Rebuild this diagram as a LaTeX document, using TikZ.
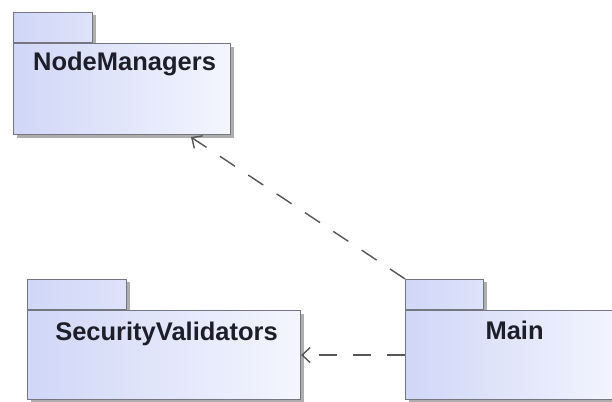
\documentclass[tikz,border=0pt]{standalone}
\usepackage{fontspec}
\setmainfont{Liberation Sans}
\usetikzlibrary{arrows.meta,shadows,calc}

\definecolor{pkgdark}{RGB}{208,215,247}
\definecolor{pkglight}{RGB}{244,245,254}
\definecolor{pkgline}{RGB}{118,118,128}
\definecolor{pkgtext}{RGB}{30,30,42}
\definecolor{depline}{RGB}{85,85,90}

\tikzset{
  pkgshadow/.style={drop shadow={shadow xshift=3pt, shadow yshift=-3pt,
      fill=black!45, opacity=0.7}},
  pkgbody/.style={draw=pkgline, line width=1.1pt, pkgshadow,
      left color=pkgdark, right color=pkglight, inner sep=0pt},
  pkgtab/.style={draw=pkgline, line width=1.1pt, pkgshadow,
      left color=pkgdark, right color=pkgdark!60!pkglight, inner sep=0pt,
      minimum width=79pt, minimum height=30pt, anchor=south west},
  pkgtitle/.style={anchor=base, text=pkgtext, inner sep=0pt,
      font=\fontsize{25.5}{30}\selectfont\bfseries},
  dependency/.style={draw=depline, line width=1.4pt,
      dash pattern=on 18pt off 16pt,
      -{Straight Barb[length=8pt,width=15pt,line width=1.4pt]}}
}

\begin{document}
\begin{tikzpicture}[x=1pt,y=-1pt]
  \useasboundingbox (0,0) rectangle (612,401);
  \clip (0,0) rectangle (612,401);
  \fill[white] (0,0) rectangle (612,401);

  % NodeManagers package
  \node[pkgtab] (nmtab) at (13,43) {};
  \node[pkgbody, minimum width=217pt, minimum height=91pt, anchor=north west] (nm) at (13,43) {};
  \node[pkgtitle] (nmtitle) at ($(nm.north)+(2.5,28)$) {NodeManagers};

  % SecurityValidators package
  \node[pkgtab, minimum width=99pt] (svtab) at (27,310) {};
  \node[pkgbody, minimum width=273pt, minimum height=89pt, anchor=north west] (sv) at (27,310) {};
  \node[pkgtitle] (svtitle) at ($(sv.north)+(2.5,30)$) {SecurityValidators};

  % Main package
  \node[pkgtab, minimum width=78pt] (mntab) at (405,310) {};
  \node[pkgbody, minimum width=218pt, minimum height=89pt, anchor=north west] (mn) at (405,310) {};
  \node[pkgtitle] (mntitle) at ($(mn.north)+(0,29)$) {Main};

  % dependencies
  \draw[dependency] (mntab.north west) -- ($(nm.south west)!0.816!(nm.south east)+(0,2)$);
  \draw[dependency] (mn.west) -- (sv.east);
\end{tikzpicture}
\end{document}
